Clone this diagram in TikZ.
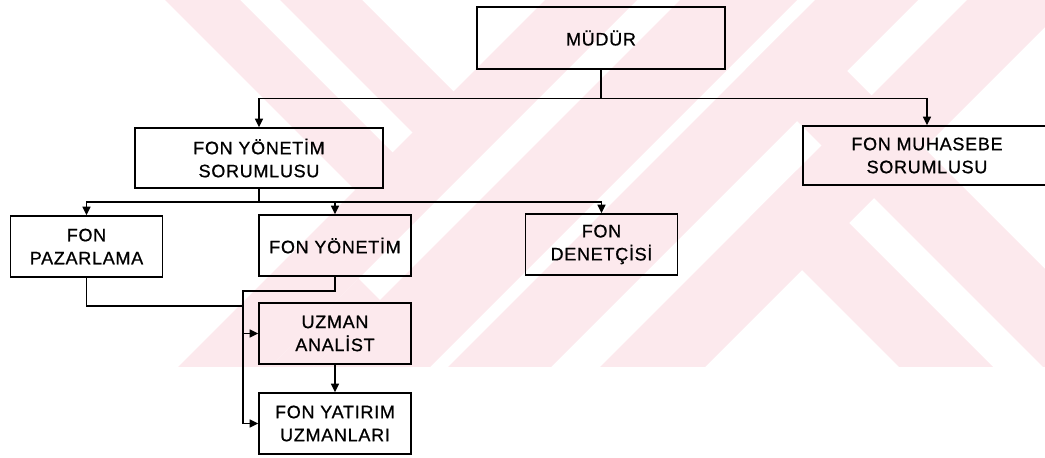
\documentclass[tikz,border=0pt]{standalone}
\usepackage{fontspec}
\setmainfont{Liberation Sans}[LetterSpace=4,FakeBold=0.8]
\usetikzlibrary{arrows.meta}
\definecolor{wmpink}{RGB}{252,233,237}
\begin{document}
\begin{tikzpicture}[x=0.75pt,y=-0.75pt,
  box/.style={draw=black, line width=1.1pt, inner sep=0pt, align=center,
    font=\fontsize{13.5pt}{17.25pt}\selectfont, minimum height=45.75pt},
  wide/.style={box, minimum width=186pt},
  narrow/.style={box, minimum width=114pt},
  link/.style={line width=1.1pt, line cap=rect},
  arr/.style={line width=1.1pt, -{Triangle[length=6.5pt,width=6pt]}},
]
\useasboundingbox (0,0) rectangle (1045,457);

% background emblem made of diagonal bands
\begin{scope}
  \clip (0,0) rectangle (1045,366);
  % left: two falling strokes meeting the rising band
  \fill[wmpink] (155,-10) -- (230,-10) -- (420,180) -- (382.5,217.5) -- cycle;
  \fill[wmpink] (270,-10) -- (352,-10) -- (481,119) -- (440,160) -- cycle;
  % rising bands
  \fill[wmpink] (555,-10) -- (647,-10) -- (257,380) -- (165,380) -- cycle;
  \fill[wmpink] (690,-10) -- (807,-10) -- (417,380) -- (300,380) -- cycle;
  \fill[wmpink] (358.5,278.5) -- (380,300) -- (300,380) -- (257,380) -- cycle;
  \fill[wmpink] (825,-10) -- (928,-10) -- (538,380) -- (435,380) -- cycle;
  \fill[wmpink] (977,-10) -- (1082,-10) -- (692,380) -- (587,380) -- cycle;
  % right: falling legs
  \fill[wmpink] (745.5,69.5) -- (795.5,19.5) -- (1156,380) -- (1056,380) -- cycle;
  \fill[wmpink] (749.5,217.5) -- (796.5,170.5) -- (1006,380) -- (912,380) -- cycle;
\end{scope}

% boxes
\node[wide, minimum height=46.5pt] (mud) at (601,38) {MÜDÜR};
\node[wide, minimum height=45pt] (fys) at (259,158) {FON YÖNETİM\\SORUMLUSU};
\node[wide, minimum height=44.25pt] (fms) at (927,155.5) {FON MUHASEBE\\SORUMLUSU};
\node[narrow] (fp) at (86.5,246.5) {FON\\PAZARLAMA};
\node[narrow] (fy) at (335,245.5) {FON YÖNETİM};
\node[narrow] (fd) at (601.5,244.5) {FON\\DENETÇİSİ};
\node[narrow] (ua) at (335,333.5) {UZMAN\\ANALİST};
\node[narrow] (fyu) at (335,423.5) {FON YATIRIM\\UZMANLARI};

% junctions
\coordinate (j1) at (601,98.5);
\coordinate (j2) at (259,202);
\coordinate (b0) at (243,291);
\coordinate (b1) at (243,306);

% connectors
\draw[link] (mud.south) -- (j1);
\draw[arr] (j1) -| (fys.north);
\draw[arr] (j1) -| (fms.north);
\draw[link] (fys.south) -- (j2);
\draw[arr] (j2) -| (fp.north);
\draw[arr] (j2) -| (fy.north);
\draw[arr] (j2) -| (fd.north);
\draw[link] (fp.south) |- (b1);
\draw[link] (fy.south) |- (b0);
\draw[link] (b0) -- (b0 |- fyu.west);
\draw[arr] (b0 |- ua.west) -- (ua.west);
\draw[arr] (b0 |- fyu.west) -- (fyu.west);
\draw[arr] (ua.south) -- (fyu.north);
\end{tikzpicture}
\end{document}
